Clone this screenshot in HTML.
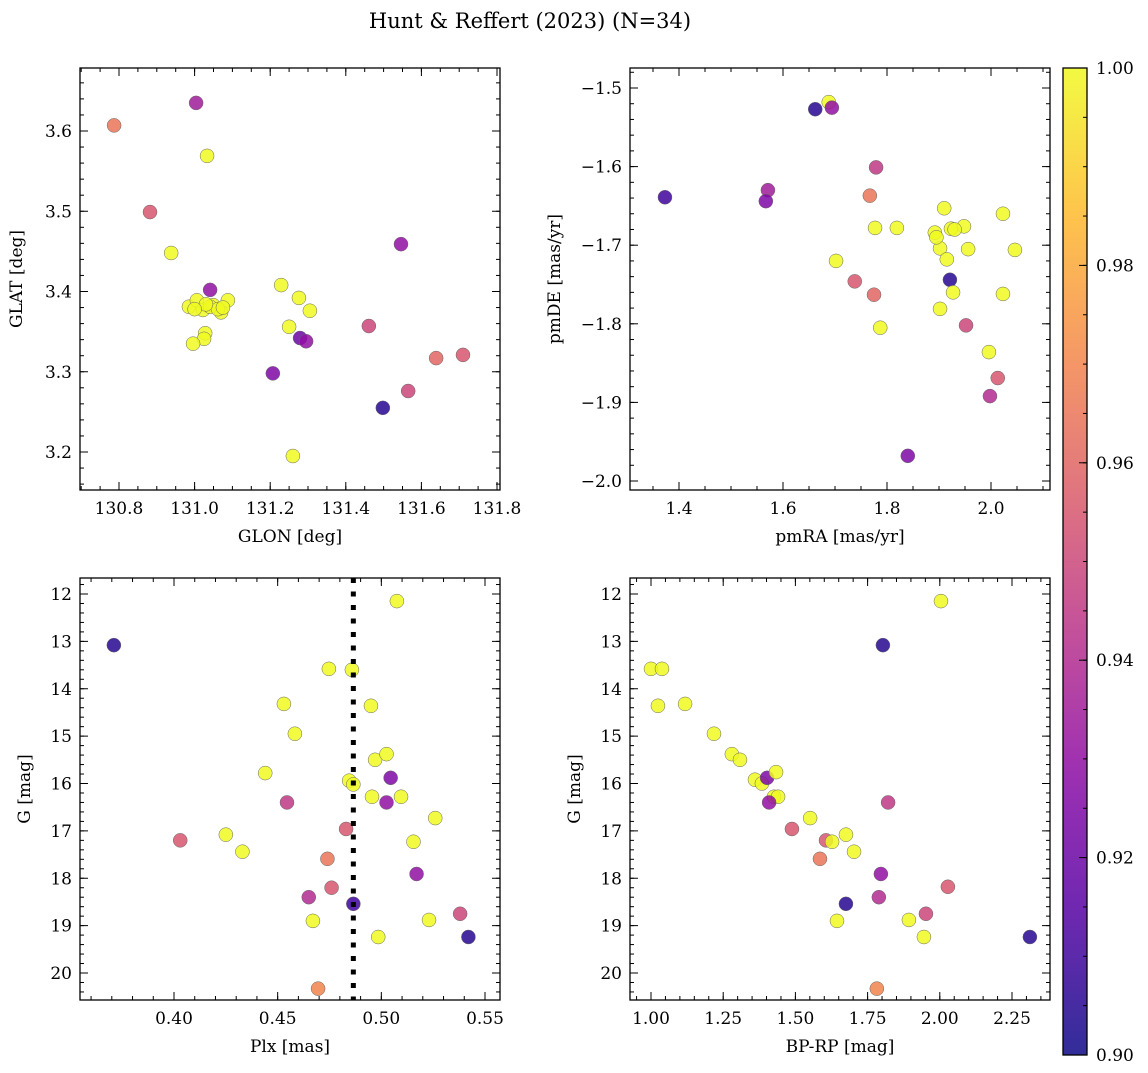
<!DOCTYPE html>
<html><head><meta charset="utf-8"><style>
body{margin:0;background:#fff;}
svg text{font-family:"DejaVu Serif","Liberation Serif",serif;fill:#000;}
</style></head><body>
<svg id="fig" width="1148" height="1068" xmlns="http://www.w3.org/2000/svg">
<text x="530" y="28" font-size="21" text-anchor="middle">Hunt &amp; Reffert (2023) (N=34)</text>
</svg>
<script>
// ---- data ----
const tlGlon=[130.787,131.004,131.033,130.882,130.938,131.041,131.229,130.985,131.006,131.022,131.049,131.07,131.088,131.041,131.062,131.276,131.305,131.25,131.028,131.025,130.996,131.279,131.295,131.461,131.546,131.207,131.639,131.71,131.565,131.498,131.26,131.03,131.075,131.0];
const tlGlat=[3.607,3.635,3.569,3.499,3.448,3.402,3.408,3.381,3.389,3.377,3.383,3.374,3.389,3.381,3.378,3.392,3.376,3.356,3.348,3.341,3.335,3.342,3.338,3.357,3.459,3.298,3.317,3.321,3.276,3.255,3.195,3.384,3.38,3.378];
const tlProb=[0.965,0.935,1,0.955,1,0.93,1,1,1,1,1,1,1,1,1,1,1,1,1,1,1,0.92,0.93,0.95,0.93,0.925,0.96,0.955,0.95,0.905,1,1,1,1];
const trPmra=[1.688,1.694,1.662,1.373,1.571,1.567,1.779,1.767,1.910,2.023,2.046,1.777,1.819,1.892,1.923,1.948,1.902,1.956,1.915,1.702,1.921,1.738,1.775,1.927,2.023,1.902,1.787,1.952,1.996,2.013,1.998,1.840,1.895,1.93];
const trPmde=[-1.518,-1.525,-1.527,-1.639,-1.630,-1.644,-1.601,-1.637,-1.653,-1.660,-1.706,-1.678,-1.678,-1.684,-1.679,-1.676,-1.704,-1.705,-1.718,-1.720,-1.744,-1.746,-1.763,-1.760,-1.762,-1.781,-1.805,-1.802,-1.836,-1.869,-1.892,-1.968,-1.69,-1.68];
const trProb=[1,0.93,0.905,0.91,0.935,0.925,0.945,0.965,1,1,1,1,1,1,1,1,1,1,1,1,0.905,0.955,0.96,1,1,1,1,0.95,1,0.955,0.94,0.925,1,1];
const blPlx=[0.371,0.5075,0.4747,0.4858,0.453,0.495,0.4583,0.497,0.5025,0.444,0.4845,0.4865,0.5045,0.4955,0.5095,0.5025,0.4545,0.526,0.403,0.425,0.433,0.483,0.5155,0.474,0.517,0.476,0.465,0.4865,0.467,0.523,0.538,0.4985,0.542,0.4695];
const blG=[13.08,12.15,13.58,13.6,14.32,14.36,14.95,15.5,15.38,15.78,15.94,16.02,15.88,16.28,16.28,16.4,16.4,16.73,17.2,17.08,17.44,16.96,17.23,17.59,17.91,18.2,18.4,18.54,18.9,18.88,18.75,19.24,19.24,20.33];
const blProb=[0.905,1,1,1,1,1,1,1,1,1,1,1,0.925,1,1,0.93,0.945,1,0.955,1,1,0.955,1,0.965,0.93,0.955,0.94,0.91,1,1,0.95,1,0.905,0.97];
const brColor=[1.0,1.038,1.024,1.118,1.218,1.28,1.308,1.36,1.384,1.402,1.426,1.44,1.433,1.409,1.551,1.488,1.606,1.627,1.675,1.703,1.585,1.796,1.821,1.803,2.004,1.789,1.675,1.644,1.893,1.952,1.945,2.028,2.312,1.782];
const brG=[13.58,13.58,14.36,14.32,14.95,15.38,15.5,15.92,16.0,15.88,16.28,16.28,15.76,16.4,16.73,16.96,17.2,17.23,17.08,17.44,17.59,17.91,16.4,13.08,12.15,18.4,18.54,18.9,18.88,18.75,19.24,18.18,19.24,20.33];
const brProb=[1,1,1,1,1,1,1,1,1,0.925,1,1,1,0.93,1,0.955,0.955,1,1,1,0.965,0.93,0.945,0.905,1,0.94,0.905,1,1,0.95,1,0.955,0.905,0.97];
const plxLine=0.4865;
const cbTicks=[0.90,0.92,0.94,0.96,0.98,1.00];

const NS="http://www.w3.org/2000/svg";
const svg=document.getElementById('fig');
function el(t,a,p){const e=document.createElementNS(NS,t);for(const k in a)e.setAttribute(k,a[k]);(p||svg).appendChild(e);return e;}
const stops=[[13,8,135],[84,2,163],[139,10,165],[185,50,137],[219,92,104],[244,136,73],[254,188,43],[240,249,33]];
function plasma(t){t=Math.max(0,Math.min(1,t));const s=t*(stops.length-1);const i=Math.min(Math.floor(s),stops.length-2);const f=s-i;const a=stops[i],b=stops[i+1];return `rgb(${a.map((v,k)=>Math.round(v+(b[k]-v)*f)).join(',')})`;}
function pc(p){return plasma((p-0.9)/0.1);}
function lin(d0,d1,r0,r1){return v=>r0+(v-d0)/(d1-d0)*(r1-r0);}
function fmt(v,dec){return v.toFixed(dec).replace('-','\u2212');}

function panel(o){
  const g=el('g',{});
  
  
  const X=lin(o.xd[0],o.xd[1],o.xr[0],o.xr[1]),Y=lin(o.yd[0],o.yd[1],o.yr[0],o.yr[1]);
  const L=o.box[0],T=o.box[1],R=o.box[2],B=o.box[3];
  const gp=el('g',{},g);
  
  
  if(o.vline!==undefined){const l=el('line',{x1:X(o.vline),x2:X(o.vline),y1:T,y2:B,stroke:'#000','stroke-width':5,'stroke-dasharray':'5 8.5'},g);
    }
  for(let i=0;i<o.x.length;i++){
    const c=el('circle',{cx:X(o.x[i]),cy:Y(o.y[i]),r:7,fill:pc(o.p[i]),'fill-opacity':0.85,stroke:'#666','stroke-width':0.5},gp);
    
  }
  el('rect',{x:L,y:T,width:R-L,height:B-T,fill:'none',stroke:'#000','stroke-width':1.3},g);
  function ticks(a,b,step){const r=[];for(let v=Math.ceil(a/step-1e-6)*step;v<=b+1e-9;v+=step)r.push(+v.toFixed(6));return r;}
  const xa=[(L-o.xr[0])/(o.xr[1]-o.xr[0])*(o.xd[1]-o.xd[0])+o.xd[0],(R-o.xr[0])/(o.xr[1]-o.xr[0])*(o.xd[1]-o.xd[0])+o.xd[0]];
  const ya=[(T-o.yr[0])/(o.yr[1]-o.yr[0])*(o.yd[1]-o.yd[0])+o.yd[0],(B-o.yr[0])/(o.yr[1]-o.yr[0])*(o.yd[1]-o.yd[0])+o.yd[0]];
  const yl=Math.min(...ya),yh=Math.max(...ya);
  ticks(xa[0],xa[1],o.xminor).forEach(v=>{const x=X(v);el('line',{x1:x,x2:x,y1:B,y2:B-4,stroke:'#000'},g);el('line',{x1:x,x2:x,y1:T,y2:T+4,stroke:'#000'},g);});
  ticks(xa[0],xa[1],o.xmajor).forEach(v=>{const x=X(v);el('line',{x1:x,x2:x,y1:B,y2:B-8,stroke:'#000'},g);el('line',{x1:x,x2:x,y1:T,y2:T+8,stroke:'#000'},g);
    const t=el('text',{x:x,y:B+24,'font-size':17,'text-anchor':'middle'},g);t.textContent=fmt(v,o.xdec);});
  ticks(yl,yh,o.yminor).forEach(v=>{const y=Y(v);el('line',{x1:L,x2:L+4,y1:y,y2:y,stroke:'#000'},g);el('line',{x1:R,x2:R-4,y1:y,y2:y,stroke:'#000'},g);});
  ticks(yl,yh,o.ymajor).forEach(v=>{const y=Y(v);el('line',{x1:L,x2:L+8,y1:y,y2:y,stroke:'#000'},g);el('line',{x1:R,x2:R-8,y1:y,y2:y,stroke:'#000'},g);
    const t=el('text',{x:L-8,y:y+6,'font-size':17,'text-anchor':'end'},g);t.textContent=fmt(v,o.ydec);});
  const xt=el('text',{x:(L+R)/2,y:B+52,'font-size':17,'text-anchor':'middle'},g);xt.textContent=o.xl;
  
  const yt=el('text',{x:0,y:0,'font-size':17,'text-anchor':'middle',transform:`translate(${o.ylx},${(T+B)/2}) rotate(-90)`},g);yt.textContent=o.yl;
  
}
panel({name:'glon-glat-panel',box:[80,68,500,490],xd:[130.8,131.8],xr:[119,497],yd:[3.6,3.2],yr:[131,452],x:tlGlon,y:tlGlat,p:tlProb,xmajor:0.2,xminor:0.05,ymajor:0.1,yminor:0.02,xdec:1,ydec:1,xl:'GLON [deg]',yl:'GLAT [deg]',ylx:22});
panel({name:'propermotion-panel',box:[630,68,1050,490],xd:[1.4,2.0],xr:[679,991],yd:[-1.5,-2.0],yr:[88,481],x:trPmra,y:trPmde,p:trProb,xmajor:0.2,xminor:0.05,ymajor:0.1,yminor:0.02,xdec:1,ydec:1,xl:'pmRA [mas/yr]',yl:'pmDE [mas/yr]',ylx:560});
panel({name:'plx-g-panel',box:[80,578,500,1000],xd:[0.40,0.55],xr:[174,485],yd:[12,20],yr:[594,973],x:blPlx,y:blG,p:blProb,xmajor:0.05,xminor:0.01,ymajor:1,yminor:0.2,xdec:2,ydec:0,xl:'Plx [mas]',yl:'G [mag]',ylx:30,vline:plxLine});
panel({name:'cmd-panel',box:[630,578,1050,1000],xd:[1.0,2.25],xr:[651,1012],yd:[12,20],yr:[594,973],x:brColor,y:brG,p:brProb,xmajor:0.25,xminor:0.05,ymajor:1,yminor:0.2,xdec:2,ydec:0,xl:'BP-RP [mag]',yl:'G [mag]',ylx:580});

// colorbar
const cb=el('g',{});


const defs=el('defs',{});
const lg=el('linearGradient',{id:'cbg',x1:0,y1:1,x2:0,y2:0},defs);
for(let i=0;i<=20;i++){el('stop',{offset:i/20,'stop-color':plasma(i/20),'stop-opacity':0.85},lg);}
el('rect',{x:1063,y:68,width:24,height:987,fill:'url(#cbg)',stroke:'#000','stroke-width':1.3},cb);
const CY=lin(0.9,1.0,1055,68);
for(let v=0.9;v<=1.0001;v+=0.005){const y=CY(v);el('line',{x1:1087,x2:1083,y1:y,y2:y,stroke:'#000'},cb);}
cbTicks.forEach(v=>{const y=CY(v);el('line',{x1:1087,x2:1079,y1:y,y2:y,stroke:'#000'},cb);
  const t=el('text',{x:1096,y:y+6,'font-size':17},cb);t.textContent=v.toFixed(2);});
</script>
</body></html>
